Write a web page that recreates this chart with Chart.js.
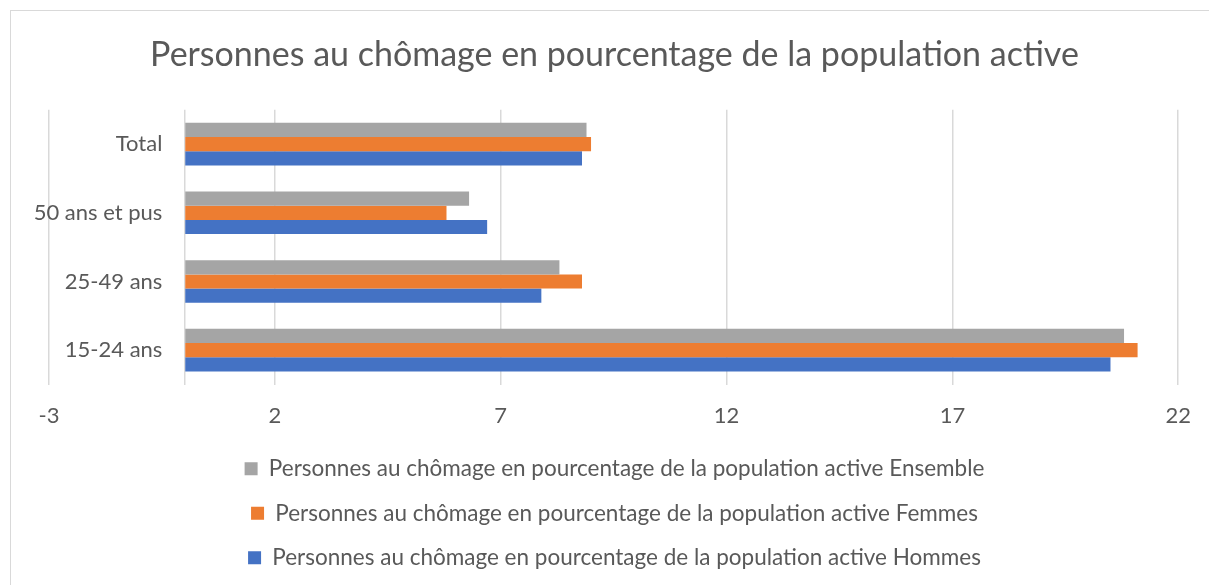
<!DOCTYPE html>
<html lang="fr">
<head>
<meta charset="utf-8">
<title>Personnes au chômage en pourcentage de la population active</title>
<script src="https://cdn.jsdelivr.net/npm/chart.js@4.4.1/dist/chart.umd.min.js"></script>
<style>
    html, body { margin: 0; padding: 0; background: #fff; overflow: hidden; }
    #cadre { position: absolute; left: 10px; top: 10px; width: 1260px; height: 640px; border: 1.5px solid #d9d9d9; }
    #zone { position: absolute; left: 0; top: 0; width: 1209px; height: 585px; }
</style>
</head>
<body>
<div id="cadre"></div>
<div id="zone"><canvas id="graphe"></canvas></div>
<script>
/* Chômage par tranche d'âge, barres horizontales façon Excel. */
var TITRE = "Personnes au chômage en pourcentage de la population active";
var CATEGORIES = ["Total", "50 ans et pus", "25-49 ans", "15-24 ans"];
var SERIES = [
    "Personnes au chômage en pourcentage de la population active Ensemble",
    "Personnes au chômage en pourcentage de la population active Femmes",
    "Personnes au chômage en pourcentage de la population active Hommes"
];
var ENSEMBLE = [8.9, 6.3, 8.3, 20.8];
var FEMMES = [9.0, 5.8, 8.8, 21.1];
var HOMMES = [8.8, 6.7, 7.9, 20.5];
var AXE_MIN = -3;
var AXE_MAX = 22;
var AXE_PAS = 5;

(function () {
    "use strict";

    var GRIS_TEXTE = "#595959";
    var GRILLE = "#d9d9d9";
    var POLICE = "Lato, 'Open Sans', sans-serif";
    var COULEURS = ["#a5a5a5", "#ed7d31", "#4472c4"];
    var valeurs = [ENSEMBLE, FEMMES, HOMMES];

    var datasets = SERIES.map(function (nom, i) {
        return {
            label: nom,
            data: valeurs[i],
            backgroundColor: COULEURS[i],
            borderWidth: 0,
            categoryPercentage: 0.62,
            barPercentage: 1
        };
    });

    // l'axe des catégories croise à 0 : on ajoute une ligne de grille sans libellé
    function ajouterZero(scale) {
        scale.ticks.push({ value: 0 });
        scale.ticks.sort(function (a, b) { return a.value - b.value; });
    }

    new Chart(document.getElementById("graphe"), {
        type: "bar",
        data: { labels: CATEGORIES, datasets: datasets },
        options: {
            indexAxis: "y",
            responsive: true,
            maintainAspectRatio: false,
            animation: false,
            layout: { padding: { left: 49, right: 29, top: 0, bottom: 6 } },
            plugins: {
                tooltip: { enabled: false },
                title: {
                    display: true,
                    text: TITRE,
                    color: GRIS_TEXTE,
                    font: { family: POLICE, size: 34, weight: "normal" },
                    padding: { top: 35, bottom: 34 }
                },
                legend: {
                    position: "bottom",
                    labels: {
                        color: GRIS_TEXTE,
                        font: { family: POLICE, size: 22.5 },
                        boxWidth: 13,
                        boxHeight: 13,
                        padding: 22
                    }
                }
            },
            scales: {
                x: {
                    min: AXE_MIN,
                    max: AXE_MAX,
                    afterBuildTicks: ajouterZero,
                    ticks: {
                        stepSize: AXE_PAS,
                        autoSkip: false,
                        color: GRIS_TEXTE,
                        font: { family: POLICE, size: 22 },
                        padding: 18,
                        callback: function (v) { return v === 0 ? "" : v; }
                    },
                    grid: { color: GRILLE, lineWidth: 1.5, drawTicks: false },
                    border: { display: false },
                    afterFit: function (s) { s.height = 51; }
                },
                y: {
                    position: { x: -0.49 },
                    ticks: {
                        color: GRIS_TEXTE,
                        font: { family: POLICE, size: 22 }
                    },
                    grid: { display: false, drawTicks: false },
                    border: { display: false }
                }
            }
        }
    });
})();
</script>
</body>
</html>
